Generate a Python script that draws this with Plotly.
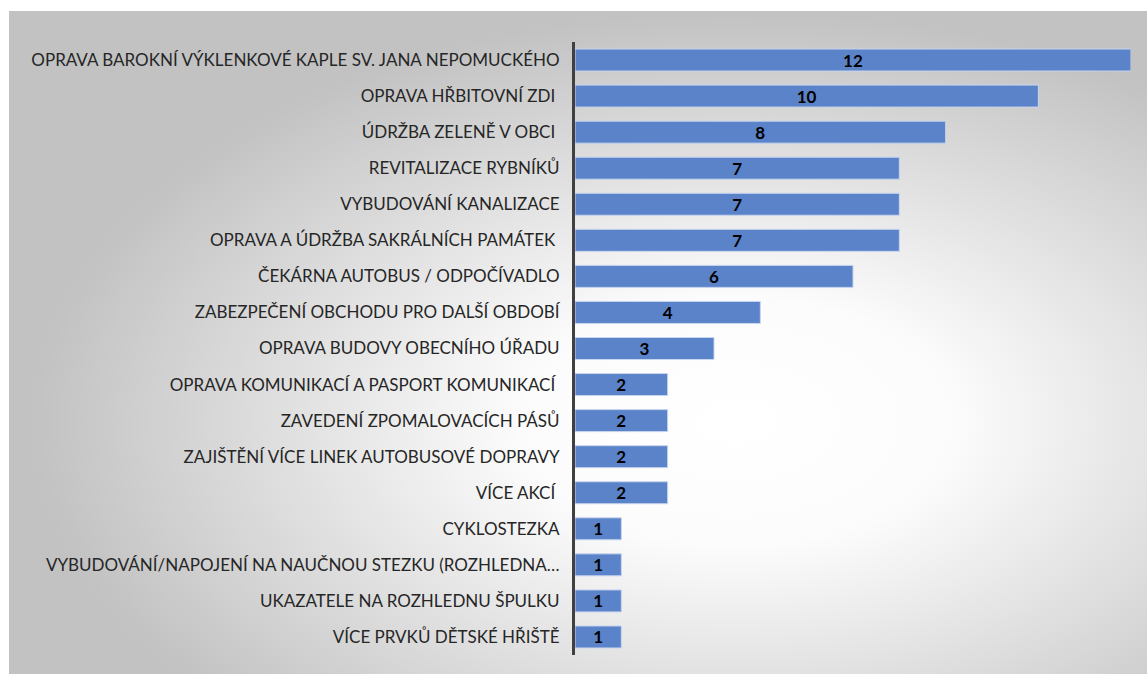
import plotly.graph_objects as go
import urllib.parse

categories = [
    "OPRAVA BAROKNÍ VÝKLENKOVÉ KAPLE SV. JANA NEPOMUCKÉHO",
    "OPRAVA HŘBITOVNÍ ZDI\u00a0",
    "ÚDRŽBA ZELENĚ V OBCI\u00a0",
    "REVITALIZACE RYBNÍKŮ",
    "VYBUDOVÁNÍ KANALIZACE",
    "OPRAVA A ÚDRŽBA SAKRÁLNÍCH PAMÁTEK\u00a0",
    "ČEKÁRNA AUTOBUS / ODPOČÍVADLO",
    "ZABEZPEČENÍ OBCHODU PRO DALŠÍ OBDOBÍ",
    "OPRAVA BUDOVY OBECNÍHO ÚŘADU",
    "OPRAVA KOMUNIKACÍ A PASPORT KOMUNIKACÍ\u00a0",
    "ZAVEDENÍ ZPOMALOVACÍCH PÁSŮ",
    "ZAJIŠTĚNÍ VÍCE LINEK AUTOBUSOVÉ DOPRAVY",
    "VÍCE AKCÍ\u00a0",
    "CYKLOSTEZKA",
    "VYBUDOVÁNÍ/NAPOJENÍ NA NAUČNOU STEZKU (ROZHLEDNA…",
    "UKAZATELE NA ROZHLEDNU ŠPULKU",
    "VÍCE PRVKŮ DĚTSKÉ HŘIŠTĚ",
]
values = [12, 10, 8, 7, 7, 7, 6, 4, 3, 2, 2, 2, 2, 1, 1, 1, 1]

W, H = 1147, 674
L, R, T, B = 575, 16, 42, 19
pw = W - L - R
ph = H - T - B

svg = (
    '<svg xmlns="http://www.w3.org/2000/svg" width="1138" height="663" viewBox="0 0 1138 663" preserveAspectRatio="none">'
    '<defs><radialGradient id="g" cx="0.64" cy="0.62" r="0.62" fx="0.64" fy="0.62">'
    '<stop offset="0" stop-color="#ffffff"/>'
    '<stop offset="0.3" stop-color="#fcfcfc"/>'
    '<stop offset="1" stop-color="#c2c2c2"/>'
    '</radialGradient></defs>'
    '<rect x="0" y="0" width="1138" height="663" fill="url(#g)"/></svg>'
)
src = "data:image/svg+xml;charset=utf-8," + urllib.parse.quote(svg)

def px_to_paper_x(px):
    return (px - L) / pw

def py_to_paper_y(py):
    return (H - B - py) / ph

FONT = "Lato, Open Sans, sans-serif"

fig = go.Figure(
    go.Bar(
        x=values,
        y=categories,
        orientation="h",
        marker=dict(color="#5b83c9", line=dict(color="#c8d5ee", width=1)),
        text=[str(v) for v in values],
        textposition="inside",
        insidetextanchor="middle",
        textangle=0,
        constraintext="none",
        textfont=dict(family=FONT, size=17, color="#000000", weight="bold"),
        width=0.61,
        hoverinfo="skip",
    )
)

fig.add_layout_image(
    dict(
        source=src,
        xref="paper", yref="paper",
        x=px_to_paper_x(9), y=py_to_paper_y(11),
        sizex=(W - 9) / pw, sizey=(H - 11) / ph,
        xanchor="left", yanchor="top",
        sizing="stretch",
        layer="below",
    )
)

fig.update_layout(
    width=W, height=H,
    margin=dict(l=L, r=R, t=T, b=B, autoexpand=False),
    paper_bgcolor="#ffffff",
    plot_bgcolor="rgba(0,0,0,0)",
    showlegend=False,
    font=dict(family=FONT, size=17, color="#262626"),
)
fig.update_xaxes(range=[0, 12], visible=False, showgrid=False, zeroline=False)
fig.update_yaxes(
    autorange="reversed",
    showline=True, linecolor="#404040", linewidth=3,
    ticks="", showgrid=False, zeroline=False,
    ticklabelstandoff=9,
    tickfont=dict(family=FONT, size=17, color="#262626"),
)

fig.write_html(
    "out.html",
    config={"displayModeBar": False},
    post_script="document.body.style.margin='0';document.body.style.overflow='hidden';",
)
